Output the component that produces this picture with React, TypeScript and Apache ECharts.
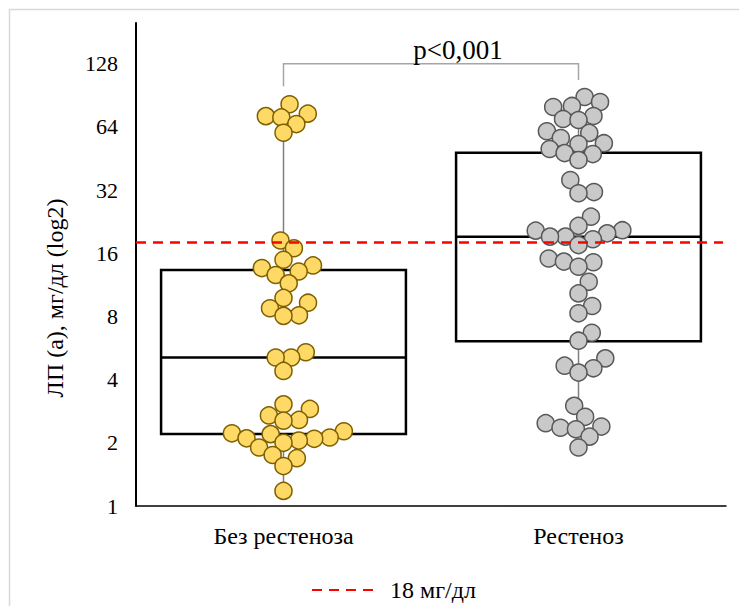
import React, { useEffect, useRef } from "react";
import * as echarts from "echarts";

const categories = ["Без рестеноза", "Рестеноз"];

// Лп(а), мг/дл — individual patients, group without restenosis
const noRestenosis = [
  82, 74, 72, 71, 66, 60, 18.4, 16.9, 14.9, 14.0, 13.6, 13.1, 12.6, 11.5,
  9.8, 9.3, 8.75, 8.1, 8.05, 5.4, 5.1, 5.1, 4.4, 3.05, 2.9, 2.7, 2.57, 2.55,
  2.27, 2.22, 2.2, 2.12, 2.1, 2.09, 2.05, 2.0, 1.9, 1.75, 1.69, 1.55, 1.18,
];

// Лп(а), мг/дл — individual patients, restenosis group
const restenosis = [
  88.8, 84.1, 80.5, 79.6, 72.1, 69.8, 69.0, 61, 59.9, 56.6, 53.5, 53.0, 50.2,
  48.0, 47.5, 44.5, 35.7, 31.3, 30.9, 23.9, 21.6, 20.6, 20.5, 19.9, 19.2, 19.2,
  18.65, 17.5, 15.1, 14.6, 14.5, 13.8, 11.7, 10.3, 8.97, 8.28, 6.69, 6.13,
  5.05, 4.66, 4.53, 4.32, 3.0, 2.66, 2.48, 2.39, 2.36, 2.32, 2.14, 1.9,
];

// whisker low, Q1, median, Q3, whisker high
const boxNoRestenosis = [1.18, 2.2, 5.1, 13.3, 82];
const boxRestenosis = [1.9, 6.1, 19.2, 48.2, 88.8];

const yTicks = [1, 2, 4, 8, 16, 32, 64, 128];
const Y_MIN = 1;
const Y_MAX = 200;

const thresholdValue = 18;
const thresholdName = "18 мг/дл";
const pValueLabel = "p<0,001";

const FONT = '"Liberation Serif", "Times New Roman", serif';
const W = 739;
const H = 606;
const GRID = { left: 136, right: 13, top: 23, bottom: 100 };
const DOT = 17;
const COLLIDE = 15.5;

// Beeswarm layout: points sorted ascending, each pushed sideways to the
// closest spot next to the centre line where it does not hit a placed point.
function swarmOffsets(values: number[], pxPerUnit: number, d: number): number[] {
  const order = values.map((_, i) => i).sort((a, b) => values[a] - values[b]);
  const placed: { x: number; y: number }[] = [];
  const out = new Array(values.length).fill(0);
  for (const i of order) {
    const y = Math.log2(values[i]) * pxPerUnit;
    const near = placed.filter((p) => Math.abs(p.y - y) < d);
    const cands = [0];
    for (const p of near) {
      const dx = Math.sqrt(d * d - (p.y - y) * (p.y - y));
      cands.push(p.x + dx, p.x - dx);
    }
    cands.sort((a, b) => Math.abs(a) - Math.abs(b) || b - a);
    let x = cands[cands.length - 1];
    for (const c of cands) {
      const ok = near.every(
        (p) => (p.x - c) * (p.x - c) + (p.y - y) * (p.y - y) >= d * d - 1e-6
      );
      if (ok) {
        x = c;
        break;
      }
    }
    placed.push({ x, y });
    out[i] = x;
  }
  return out;
}

export default function App() {
  const ref = useRef<HTMLDivElement>(null);

  useEffect(() => {
    if (!ref.current) return;
    const chart = echarts.init(ref.current, undefined, { renderer: "svg" });

    const plotW = W - GRID.left - GRID.right;
    const plotH = H - GRID.top - GRID.bottom;
    const pxPerLog2 = plotH / (Math.log2(Y_MAX) - Math.log2(Y_MIN));
    const bandPx = plotW / categories.length;

    const groups = [noRestenosis, restenosis];
    const swarmData = groups.map((vals, gi) => {
      const off = swarmOffsets(vals, pxPerLog2, COLLIDE);
      return vals.map((v, k) => [gi + 0.5 + off[k] / bandPx, v]);
    });

    const boxData = [
      [0, ...boxNoRestenosis],
      [1, ...boxRestenosis],
    ];

    const option: any = {
      animation: false,
      backgroundColor: "#ffffff",
      textStyle: { fontFamily: FONT, color: "#000" },
      grid: { ...GRID },
      legend: {
        data: [thresholdName],
        left: 306,
        top: 573,
        itemWidth: 64,
        itemHeight: 20,
        itemStyle: { color: "rgba(0,0,0,0)", borderColor: "rgba(0,0,0,0)", borderWidth: 0 },
        textStyle: {
          fontFamily: FONT,
          fontSize: 24,
          color: "#000",
          padding: [0, 0, 0, 9],
        },
      },
      xAxis: [
        {
          type: "category",
          data: categories,
          axisLine: { lineStyle: { color: "#000", width: 1.5 } },
          axisTick: { show: false },
          axisLabel: { fontFamily: FONT, fontSize: 24, color: "#000", margin: 18 },
          splitLine: { show: false },
        },
        { type: "value", min: 0, max: 2, show: false },
      ],
      yAxis: {
        type: "log",
        logBase: 2,
        min: Y_MIN,
        max: Y_MAX,
        axisLine: { show: true, lineStyle: { color: "#000", width: 2 } },
        axisTick: { show: false },
        splitLine: { show: false },
        axisLabel: {
          fontFamily: FONT,
          fontSize: 22,
          color: "#000",
          margin: 18,
          formatter: (v: number) => {
            const hit = yTicks.find((t) => Math.abs(t - v) / t < 1e-6);
            return hit !== undefined ? String(hit) : "";
          },
        },
      },
      graphic: [
        {
          type: "rect",
          silent: true,
          shape: { x: 9.5, y: 9.5, width: 800, height: 700 },
          style: { fill: "none", stroke: "#d9d9d9", lineWidth: 1.5 },
        },
        {
          type: "text",
          x: 55,
          y: 298,
          rotation: Math.PI / 2,
          style: {
            text: "ЛП (а), мг/дл (log2)",
            font: `24px ${FONT}`,
            fill: "#000",
            align: "center",
            verticalAlign: "middle",
          },
        },
      ],
      series: [
        {
          type: "custom",
          name: "box",
          xAxisIndex: 0,
          yAxisIndex: 0,
          z: 2,
          data: boxData,
          encode: { x: 0, y: [1, 2, 3, 4, 5] },
          renderItem: (_params: any, api: any) => {
            const i = api.value(0);
            const lo = api.coord([i, api.value(1)]);
            const q1 = api.coord([i, api.value(2)]);
            const med = api.coord([i, api.value(3)]);
            const q3 = api.coord([i, api.value(4)]);
            const hi = api.coord([i, api.value(5)]);
            const band = Math.abs(api.coord([1, 1])[0] - api.coord([0, 1])[0]);
            const w = band * 0.83;
            const cx = q1[0];
            const whisker = { stroke: "#7f7f7f", lineWidth: 1.5 };
            const edge = { stroke: "#000", lineWidth: 2.5, fill: "none" };
            return {
              type: "group",
              children: [
                { type: "line", shape: { x1: cx, y1: lo[1], x2: cx, y2: q1[1] }, style: whisker },
                { type: "line", shape: { x1: cx, y1: q3[1], x2: cx, y2: hi[1] }, style: whisker },
                {
                  type: "rect",
                  shape: { x: cx - w / 2, y: q3[1], width: w, height: q1[1] - q3[1] },
                  style: edge,
                },
                {
                  type: "line",
                  shape: { x1: cx - w / 2, y1: med[1], x2: cx + w / 2, y2: med[1] },
                  style: { stroke: "#000", lineWidth: 2.5 },
                },
              ],
            };
          },
        },
        {
          type: "scatter",
          name: categories[0],
          xAxisIndex: 1,
          yAxisIndex: 0,
          z: 3,
          symbolSize: DOT,
          data: swarmData[0],
          itemStyle: { color: "#FFD966", borderColor: "#7F6000", borderWidth: 1.5, opacity: 1 },
        },
        {
          type: "scatter",
          name: categories[1],
          xAxisIndex: 1,
          yAxisIndex: 0,
          z: 3,
          symbolSize: DOT,
          data: swarmData[1],
          itemStyle: { color: "#C9C9C9", borderColor: "#595959", borderWidth: 1.5, opacity: 1 },
        },
        {
          type: "line",
          name: thresholdName,
          xAxisIndex: 1,
          yAxisIndex: 0,
          z: 4,
          symbol: "none",
          data: [
            [0, thresholdValue],
            [1.99, thresholdValue],
          ],
          lineStyle: { color: "#FF0000", width: 2.5, type: [10, 7] },
          itemStyle: { color: "#FF0000" },
        },
        {
          type: "custom",
          name: "bracket",
          xAxisIndex: 0,
          yAxisIndex: 0,
          z: 4,
          data: [[0, 1, 128, 100, 107]],
          encode: { x: [0, 1], y: [2, 3, 4] },
          renderItem: (_params: any, api: any) => {
            const top = api.value(2);
            const a = api.coord([api.value(0), api.value(3)]);
            const aTop = api.coord([api.value(0), top]);
            const b = api.coord([api.value(1), api.value(4)]);
            const bTop = api.coord([api.value(1), top]);
            const mid = (aTop[0] + bTop[0]) / 2;
            return {
              type: "group",
              children: [
                {
                  type: "polyline",
                  shape: { points: [a, aTop, bTop, b] },
                  style: { stroke: "#a6a6a6", lineWidth: 1.5, fill: "none" },
                },
                {
                  type: "text",
                  x: mid + 27,
                  y: aTop[1] - 14,
                  style: {
                    text: pValueLabel,
                    font: `27px ${FONT}`,
                    fill: "#000",
                    align: "center",
                    verticalAlign: "middle",
                  },
                },
              ],
            };
          },
        },
      ],
    };

    chart.setOption(option);
    return () => chart.dispose();
  }, []);

  return (
    <div
      ref={ref}
      style={{ position: "fixed", left: 0, top: 0, width: W, height: H, background: "#fff" }}
    />
  );
}
